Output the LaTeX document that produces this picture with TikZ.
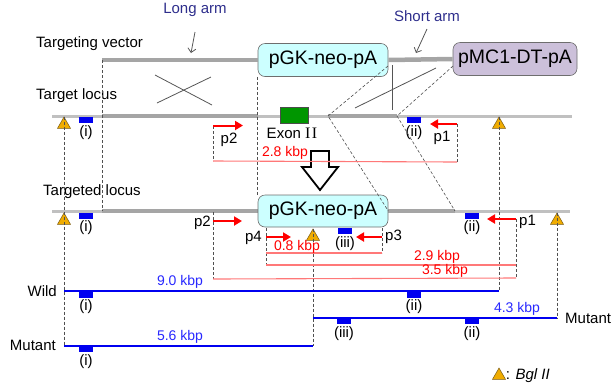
\documentclass[tikz,border=0pt]{standalone}
\usepackage{fontspec}
\setmainfont{Liberation Sans}
\newfontfamily\romanfont{Liberation Serif}
\usetikzlibrary{shapes.geometric, arrows.meta, positioning}
\definecolor{armnavy}{RGB}{46,46,140}
\definecolor{neocyan}{RGB}{204,255,255}
\definecolor{dtlilac}{RGB}{204,192,218}
\definecolor{boxedge}{RGB}{110,110,110}
\definecolor{armgray}{RGB}{165,165,165}
\definecolor{locgray}{RGB}{192,192,192}
\definecolor{guidegray}{RGB}{80,80,80}
\definecolor{crossgray}{RGB}{85,85,85}
\definecolor{bglorange}{RGB}{240,172,0}
\definecolor{bgledge}{RGB}{120,90,20}
\definecolor{sizered}{RGB}{255,120,120}
\definecolor{probeblue}{RGB}{0,0,240}
\definecolor{kbpblue}{RGB}{40,40,255}
\definecolor{exongreen}{RGB}{0,150,0}

\begin{document}
\begin{tikzpicture}[x=1pt, y=-1pt,
    armline/.style={line width=4.5pt, color=armgray},
    locline/.style={line width=3pt, color=locgray},
    guide/.style={densely dashed, line width=0.6pt, color=guidegray},
    crossline/.style={line width=0.8pt, color=crossgray},
    cassette/.style={draw=boxedge, line width=0.6pt, rounded corners=7pt, minimum width=130pt, minimum height=33pt, inner sep=0pt, font=\fontsize{19.5}{22}\selectfont},
    probe/.style={fill=probeblue, minimum width=14pt, minimum height=6pt, inner sep=0pt},
    bgl/.style={regular polygon, regular polygon sides=3, minimum size=15pt, inner sep=0pt, fill=bglorange, draw=bgledge, line width=0.5pt},
    primer/.style={-{Triangle[length=8pt,width=9pt]}, line width=2pt, color=red},
    sizeline/.style={line width=1.1pt, color=sizered},
    lbl/.style={font=\fontsize{15}{18}\selectfont, inner sep=0pt},
    kbp/.style={font=\fontsize{14}{16}\selectfont, inner sep=0pt}]
    \useasboundingbox (0,0) rectangle (613,384);

    % Arm labels
    \node[lbl, text=armnavy] (longarm) at (195,10) {Long arm};
    \node[lbl, text=armnavy] (shortarm) at (427,16) {Short arm};
    \node[lbl, anchor=west] (vectorlbl) at (36,44) {Targeting vector};
    \node[lbl, anchor=west] (locuslbl) at (36,96) {Target locus};
    \node[lbl, anchor=west] (targetedlbl) at (43,192) {Targeted locus};

    % Targeting vector
    \node[cassette, fill=neocyan] (vecneo) at (323,60) {pGK-neo-pA};
    \node[cassette, fill=dtlilac, minimum width=124pt] (vecdt) at (515,59) {pMC1-DT-pA};
    \draw[armline] (102,60) -- (vecneo.west);
    \draw[armline] (vecneo.east) -- (vecdt.west);
    \draw[crossline, -{Straight Barb[length=4pt]}] (195,32) -- (191,53);
    \draw[crossline, -{Straight Barb[length=4pt]}] (427,29) -- (416,53);

    % Target locus
    \coordinate (saL) at (328,116);
    \coordinate (saR) at (397,116);
    \draw[locline] (52,116) -- (572,116);
    \draw[armline] (102,116) -- (258,116);
    \draw[armline] (saL) -- (saR);
    \node[draw=black!70, fill=exongreen, minimum width=28pt, minimum height=16pt, inner sep=0pt] (exon) at (294,115) {};
    \node[lbl] (exonlbl) at (292,133) {Exon {\romanfont\fontsize{16}{18}\selectfont I\kern1.5pt I}};

    % Crossovers
    \draw[crossline] (155,75) -- (212,105);
    \draw[crossline] (157,103) -- (211,77);
    \draw[crossline] (436,68) -- (355,108);
    \draw[crossline] (392,65) -- (392,110);

    % Targeted locus
    \draw[locline] (52,211) -- (570,211);
    \draw[armline] (102,211) -- (258,211);
    \draw[armline] (388,211) -- (455,211);
    \node[cassette, fill=neocyan, minimum height=32pt] (tgtneo) at (323,211) {pGK-neo-pA};

    % Recombination arrow
    \draw[line width=1.8pt, fill=white, line join=miter]
        (311,151) -- (329,151) -- (329,167) -- (338,167) -- (320,190) -- (302,167) -- (311,167) -- cycle;

    % Bgl II sites
    \foreach \nm/\x/\y in {bgA/64/124.5, bgB/499/124.5, bgC/64/220.5, bgD/557/220.5, bgE/313/236.5} {
        \node[bgl] (\nm) at (\x,\y) {};
    }

    % Probes
    \foreach \nm/\x/\y/\lab in {ti/86/120/(i), tii/414/120/(ii), gi/86/215.5/(i), giii/345/231/(iii),
                                gii/472/215.5/(ii), wi/86/294.5/(i), wii/414/294.5/(ii),
                                miii/344/321/(iii), mii/472/321/(ii), mi/86/349/(i)} {
        \node[probe] (\nm) at (\x,\y) {};
        \node[lbl, below=2pt of \nm] {\lab};
    }

    % Guide lines
    \draw[guide] (102,60) -- (102,211);
    \draw[guide] (vecneo.south west) -- (tgtneo.north west);
    \draw[guide] (388,66) -- (saL) -- (tgtneo.east);
    \draw[guide] (453,66) -- (saR) -- (455,211);
    \draw[guide] (bgA.north) -- (64,346);
    \draw[guide] (bgB.north) -- (499,291);
    \draw[guide] (bgE.north) -- (313,346);
    \draw[guide] (bgD.north) -- (557,318);
    \draw[guide] (213,126) -- (213,161);
    \draw[guide] (457,124) -- (457,162);
    \draw[guide] (213,212) -- (213,279);
    \draw[guide] (516,219) -- (516,278);
    \draw[guide] (266,228) -- (266,265);
    \draw[guide] (382,228) -- (382,253);

    % Primers
    \draw[primer] (213,125.5) -- (243,125.5);
    \draw[primer] (457,124) -- (430,124);
    \draw[primer] (213,221) -- (242,221);
    \draw[primer] (266,237) -- (291,237);
    \draw[primer] (382,237) -- (356,237);
    \draw[primer] (516,219) -- (487,219);
    \node[lbl] (p2a) at (229,140) {p2};
    \node[lbl] (p1a) at (442,138) {p1};
    \node[lbl, anchor=east] (p2b) at (211,223) {p2};
    \node[lbl, anchor=east] (p4) at (262,238) {p4};
    \node[lbl, anchor=west] (p3) at (385,237) {p3};
    \node[lbl, anchor=west] (p1b) at (519,222) {p1};

    % PCR products
    \draw[sizeline] (213,161) -- (457,162);
    \draw[sizeline] (266,253) -- (382,253);
    \draw[sizeline] (266,265) -- (516,265);
    \draw[sizeline] (213,279) -- (516,278);
    \node[kbp, text=red] (pcrA) at (285,153) {2.8 kbp};
    \node[kbp, text=red] (pcrB) at (297,247) {0.8 kbp};
    \node[kbp, text=red] (pcrC) at (437,257) {2.9 kbp};
    \node[kbp, text=red] (pcrD) at (445,271) {3.5 kbp};

    % Southern fragments
    \draw[line width=2.2pt, probeblue] (64,291) -- (499,291);
    \draw[line width=2.2pt, probeblue] (64,346) -- (313,346);
    \draw[line width=2.2pt, probeblue] (313,318) -- (557,318);
    \node[kbp, text=kbpblue] (fragW) at (180,282) {9.0 kbp};
    \node[kbp, text=kbpblue] (fragM) at (180,337) {5.6 kbp};
    \node[kbp, text=kbpblue] (fragN) at (517,309) {4.3 kbp};
    \node[lbl, anchor=east] (wildlbl) at (57,291) {Wild};
    \node[lbl, anchor=east] (mutlblA) at (56,345) {Mutant};
    \node[lbl, anchor=west] (mutlblB) at (565,318) {Mutant};

    % Legend
    \node[bgl] (legtri) at (499,375.5) {};
    \node[lbl, right=2pt of legtri] (legtxt) {: \textit{Bgl II}};
\end{tikzpicture}
\end{document}
